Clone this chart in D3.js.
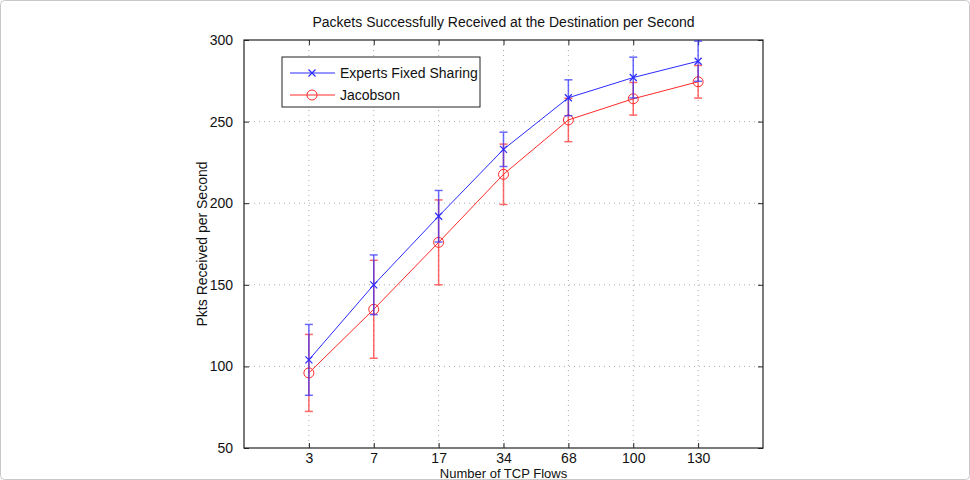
<!DOCTYPE html>
<html>
<head>
<meta charset="utf-8">
<script src="https://cdn.jsdelivr.net/npm/d3@7"></script>
<style>
  body { margin: 0; background: #fff; }
  svg { font-family: "Liberation Sans", Arial, sans-serif; }
</style>
</head>
<body>
<script>
const w = 970;
const h = 480;

// data
const flows = ["3", "7", "17", "34", "68", "100", "130"];
const expertsMean = [104, 150, 192, 233, 264.6, 277, 287];
const expertsErr = [21.7, 18.3, 15.8, 10.5, 11, 12.5, 12.3];
const jacobsonMean = [96, 135, 176, 217.7, 251, 264, 274.4];
const jacobsonErr = [23.6, 30, 26, 18.5, 13.3, 10, 10];
const yTicks = [50, 100, 150, 200, 250, 300];

const pLeft = 244, pRight = 763, pTop = 40, pBottom = 448;
const fs = "14px";

const svg = d3.select("body")
    .append("svg")
    .attr("width", w)
    .attr("height", h)

// faint frame round the figure
svg.append("rect")
    .attr("x", 0.5).attr("y", 0.5)
    .attr("width", w - 1).attr("height", h - 1)
    .attr("rx", 4)
    .style("fill", "none")
    .style("stroke", "#c8c8c8")

const xScale = d3.scaleLinear()
    .domain([0, flows.length + 1])
    .range([pLeft, pRight])

const yScale = d3.scaleLinear()
    .domain([50, 300])
    .range([pBottom, pTop])

const xIdx = flows.map((d, i) => i + 1)

// grid
svg.append("g")
    .selectAll("line")
    .data(xIdx)
    .enter().append("line")
      .attr("x1", d => xScale(d)).attr("x2", d => xScale(d))
      .attr("y1", pTop).attr("y2", pBottom)
      .style("stroke", "#aaa")
      .style("stroke-dasharray", "1,4")

svg.append("g")
    .selectAll("line")
    .data(yTicks.slice(1, -1))
    .enter().append("line")
      .attr("x1", pLeft).attr("x2", pRight)
      .attr("y1", d => yScale(d)).attr("y2", d => yScale(d))
      .style("stroke", "#aaa")
      .style("stroke-dasharray", "1,4")

// axes with inward ticks, matlab style
const xAxis = d3.axisBottom(xScale)
    .tickValues(xIdx)
    .tickFormat(d => flows[d - 1])
    .tickSizeInner(-5).tickSizeOuter(0).tickPadding(9)
const yAxis = d3.axisLeft(yScale)
    .tickValues(yTicks)
    .tickSizeInner(-5).tickSizeOuter(0).tickPadding(11)

const gx = svg.append("g")
    .attr("transform", `translate(0,${pBottom})`)
    .call(xAxis)
const gy = svg.append("g")
    .attr("transform", `translate(${pLeft},0)`)
    .call(yAxis)

svg.append("g")
    .attr("transform", `translate(0,${pTop})`)
    .call(d3.axisTop(xScale).tickValues(xIdx).tickFormat("").tickSizeInner(-5).tickSizeOuter(0))
svg.append("g")
    .attr("transform", `translate(${pRight},0)`)
    .call(d3.axisRight(yScale).tickValues(yTicks).tickFormat("").tickSizeInner(-5).tickSizeOuter(0))

svg.selectAll(".domain").remove()
svg.selectAll(".tick line").style("stroke", "#222")
svg.selectAll(".tick text")
    .style("font-size", fs)
    .style("fill", "#111")
    .style("font-family", "\"Liberation Sans\", Arial, sans-serif")
gx.selectAll(".tick text").attr("dy", "0.45em")

// plot box
svg.append("rect")
    .attr("x", pLeft).attr("y", pTop)
    .attr("width", pRight - pLeft).attr("height", pBottom - pTop)
    .style("fill", "none")
    .style("stroke", "#222")
    .style("stroke-width", 1.2)

function drawSeries(mean, err, color, marker) {
    const g = svg.append("g")

    // error bars
    const eb = g.selectAll(".eb")
        .data(mean)
        .enter().append("g")
          .style("stroke", color)
          .style("opacity", 0.7)
    eb.append("line")
        .attr("x1", (d, i) => xScale(i + 1)).attr("x2", (d, i) => xScale(i + 1))
        .attr("y1", (d, i) => yScale(d + err[i]))
        .attr("y2", (d, i) => yScale(d - err[i]))
        .style("stroke-width", 1.5)
    eb.append("line")
        .attr("x1", (d, i) => xScale(i + 1) - 4).attr("x2", (d, i) => xScale(i + 1) + 4)
        .attr("y1", (d, i) => yScale(d + err[i])).attr("y2", (d, i) => yScale(d + err[i]))
        .style("stroke-width", 1.5)
    eb.append("line")
        .attr("x1", (d, i) => xScale(i + 1) - 4).attr("x2", (d, i) => xScale(i + 1) + 4)
        .attr("y1", (d, i) => yScale(d - err[i])).attr("y2", (d, i) => yScale(d - err[i]))
        .style("stroke-width", 1.5)

    const line = d3.line()
        .x((d, i) => xScale(i + 1))
        .y(d => yScale(d))
    g.append("path")
        .datum(mean)
        .attr("d", line)
        .style("fill", "none")
        .style("stroke", color)
        .style("stroke-width", 1)

    drawMarkers(g, mean.map((d, i) => [xScale(i + 1), yScale(d)]), color, marker)
}

function drawMarkers(g, pts, color, marker) {
    if (marker === "x") {
        g.selectAll(".mx")
            .data(pts)
            .enter().append("path")
              .attr("d", p => `M${p[0]-3.5},${p[1]-3.5}L${p[0]+3.5},${p[1]+3.5}M${p[0]-3.5},${p[1]+3.5}L${p[0]+3.5},${p[1]-3.5}`)
              .style("stroke", color)
              .style("stroke-width", 1.2)
    } else {
        g.selectAll(".mo")
            .data(pts)
            .enter().append("circle")
              .attr("cx", p => p[0]).attr("cy", p => p[1])
              .attr("r", 5)
              .style("fill", "none")
              .style("stroke", color)
              .style("stroke-width", 1)
    }
}

drawSeries(jacobsonMean, jacobsonErr, "#ff2a2a", "o")
drawSeries(expertsMean, expertsErr, "#2a2aff", "x")

// legend
const lg = svg.append("g")
lg.append("rect")
    .attr("x", 282).attr("y", 57)
    .attr("width", 198).attr("height", 50)
    .style("fill", "#fff")
    .style("stroke", "#222")
const legendItems = [
    { name: "Experts Fixed Sharing", color: "#2a2aff", marker: "x", y: 73 },
    { name: "Jacobson", color: "#ff2a2a", marker: "o", y: 95 }
]
legendItems.forEach(it => {
    lg.append("line")
        .attr("x1", 290).attr("x2", 335)
        .attr("y1", it.y).attr("y2", it.y)
        .style("stroke", it.color)
    drawMarkers(lg, [[312, it.y]], it.color, it.marker)
    lg.append("text")
        .attr("x", 340).attr("y", it.y + 5)
        .text(it.name)
        .style("font-size", fs)
        .style("fill", "#111")
})

// titles
svg.append("text")
    .attr("x", (pLeft + pRight) / 2)
    .attr("y", 27)
    .attr("text-anchor", "middle")
    .text("Packets Successfully Received at the Destination per Second")
    .style("font-size", fs)
    .style("fill", "#111")

svg.append("text")
    .attr("x", (pLeft + pRight) / 2)
    .attr("y", 478)
    .attr("text-anchor", "middle")
    .text("Number of TCP Flows")
    .style("font-size", "13px")
    .style("fill", "#111")

svg.append("text")
    .attr("transform", `translate(207,${(pTop + pBottom) / 2}) rotate(-90)`)
    .attr("text-anchor", "middle")
    .text("Pkts Received per Second")
    .style("font-size", fs)
    .style("fill", "#111")
</script>
</body>
</html>
